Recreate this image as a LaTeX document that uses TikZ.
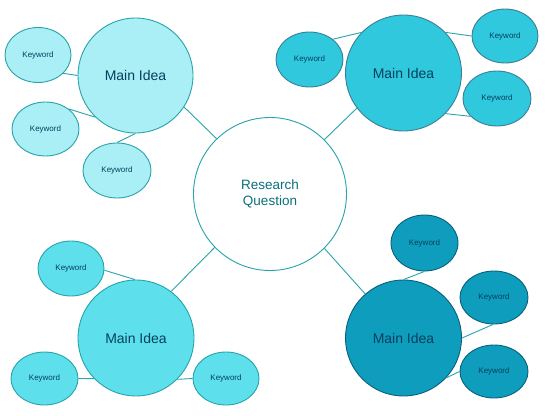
\documentclass[tikz,border=0pt]{standalone}
\usepackage{fontspec}
\setmainfont{Liberation Sans}
\usetikzlibrary{shapes.geometric}
\usepackage{xcolor}
\definecolor{linkteal}{HTML}{27A3AB}
\definecolor{qtext}{HTML}{0B6F7D}
\definecolor{mtext}{HTML}{06405E}
\definecolor{paleaqua}{HTML}{A9EFF5}
\definecolor{midaqua}{HTML}{5DE0EB}
\definecolor{brightaqua}{HTML}{2FC8DD}
\definecolor{deepaqua}{HTML}{0F9DBD}
\definecolor{edgedeep}{HTML}{0A5F7A}

\begin{document}
\begin{tikzpicture}[x=1pt,y=-1pt,
    question/.style={draw=linkteal, line width=0.9pt, circle, fill=white, minimum size=153pt, inner sep=0pt, align=center, text=qtext, font=\fontsize{13.5}{16}\selectfont},
    mainidea/.style={draw=linkteal, line width=0.9pt, circle, minimum size=115pt, inner sep=0pt, text=mtext, font=\fontsize{14}{16}\selectfont},
    keyword/.style={draw=linkteal, line width=0.9pt, ellipse, minimum width=67pt, minimum height=55pt, inner sep=0pt, text=mtext, font=\fontsize{8}{10}\selectfont},
    link/.style={draw=linkteal, line width=0.9pt}]
            \useasboundingbox (0,0) rectangle (546,415);
            % Centre
            \node[question] (rq) at (270,194) {Research\\Question};

            % Top left group
            \node[mainidea, fill=paleaqua] (mainTL) at (135.5,75.5) {Main Idea};
            \node[keyword, fill=paleaqua, minimum width=66pt] (kwTLa) at (38,55) {Keyword};
            \node[keyword, fill=paleaqua, minimum height=54pt] (kwTLb) at (45.5,129) {Keyword};
            \node[keyword, fill=paleaqua, minimum width=68pt] (kwTLc) at (117,170.5) {Keyword};

            % Top right group
            \node[mainidea, fill=brightaqua, minimum size=116pt, draw=edgedeep!80] (mainTR) at (403.5,73) {Main Idea};
            \node[keyword, fill=brightaqua, draw=edgedeep!80] (kwTRa) at (309.5,59.5) {Keyword};
            \node[keyword, fill=brightaqua, draw=edgedeep!80, minimum width=66pt, minimum height=54pt] (kwTRb) at (505,36) {Keyword};
            \node[keyword, fill=brightaqua, draw=edgedeep!80, minimum width=68pt] (kwTRc) at (497,98.5) {Keyword};

            % Bottom right group
            \node[mainidea, fill=deepaqua, minimum size=116pt, draw=edgedeep] (mainBR) at (403.5,338) {Main Idea};
            \node[keyword, fill=deepaqua, draw=edgedeep, minimum height=56pt] (kwBRa) at (424.5,243) {Keyword};
            \node[keyword, fill=deepaqua, draw=edgedeep, minimum width=68pt, minimum height=53pt] (kwBRb) at (494,297.5) {Keyword};
            \node[keyword, fill=deepaqua, draw=edgedeep, minimum width=68pt, minimum height=53pt] (kwBRc) at (494,371.5) {Keyword};

            % Bottom left group
            \node[mainidea, fill=midaqua, minimum size=116pt] (mainBL) at (136,338) {Main Idea};
            \node[keyword, fill=midaqua, minimum width=66pt] (kwBLa) at (71,268.5) {Keyword};
            \node[keyword, fill=midaqua, minimum height=53pt] (kwBLb) at (44.5,378.5) {Keyword};
            \node[keyword, fill=midaqua, minimum width=66pt, minimum height=53pt] (kwBLc) at (226,378.5) {Keyword};

            % Connectors
            \draw[link] (mainTL.-33) -- (rq.134.5);
            \draw[link] (mainTR.217) -- (rq.45.5);
            \draw[link] (mainBR.131) -- (rq.-45.5);
            \draw[link] (mainBL.53) -- (rq.224.5);

            \draw[link] (kwTLa.-36) -- (mainTL.180);
            \draw[link] (kwTLb.41.5) -- (mainTL.226);
            \draw[link] (kwTLc.90) -- (mainTL.270);

            \draw[link] (kwTRa.41) -- (mainTR.136);
            \draw[link] (kwTRb.180) -- (mainTR.44);
            \draw[link] (kwTRc.214) -- (mainTR.-44);

            \draw[link] (kwBRa.270) -- (mainBR.90);
            \draw[link] (kwBRb.268) -- (mainBR.0);
            \draw[link] (kwBRc.180) -- (mainBR.-43);

            \draw[link] (kwBLa.-3) -- (mainBL.91);
            \draw[link] (kwBLb.0) -- (mainBL.224);
            \draw[link] (kwBLc.180) -- (mainBL.-45);
        \end{tikzpicture}
\end{document}
